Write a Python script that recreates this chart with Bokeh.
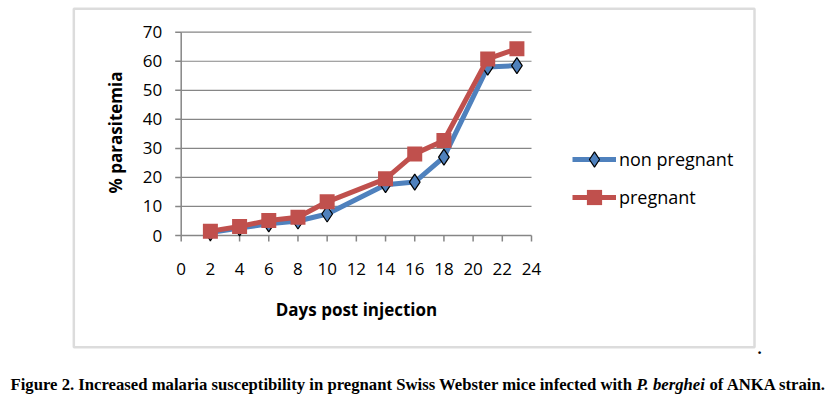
from bokeh.plotting import figure
from bokeh.models import Legend, LegendItem, BoxAnnotation, Label, Range1d
from bokeh.core.properties import value
from bokeh.embed import file_html
from bokeh.resources import INLINE
import numpy as np

# ---- data ----
days = [2, 4, 6, 8, 10, 14, 16, 18, 21, 23]
non_pregnant = [1.0, 2.6, 4.0, 5.0, 7.4, 17.5, 18.4, 27.0, 58.0, 58.5]
pregnant = [1.5, 3.1, 5.2, 6.3, 11.6, 19.5, 28.1, 32.7, 60.8, 64.3]
x_ticks = [0, 2, 4, 6, 8, 10, 12, 14, 16, 18, 20, 22, 24]
x_tick_labels = ["0", "2", "4", "6", "8", "10", "12", "14", "16", "18", "20", "22", "24"]
y_ticks = [0, 10, 20, 30, 40, 50, 60, 70]
y_tick_labels = ["0", "10", "20", "30", "40", "50", "60", "70"]
series_names = ["non pregnant", "pregnant"]
x_title = "Days post injection"
y_title = "% parasitemia"
caption_a = "Figure 2. Increased malaria susceptibility in pregnant Swiss Webster mice infected with"
caption_b = "P. berghei"
caption_c = "of ANKA strain."

BLUE = "#4F81BD"
RED = "#C0504D"
GRAY = "#868686"
FONT = "Open Sans"
CAP_FONT = "Liberation Serif"

# ---- layout (pixels from the canvas top-left) ----
W, H = 836, 396
X0, XS = 180.7, 14.596     # pixel of day 0, pixels per day
Y0, YS = 235.0, 2.904      # pixel of 0 %, pixels per %

p = figure(width=W, height=H, output_backend="svg", toolbar_location=None,
           x_axis_location=None, y_axis_location=None, min_border=0,
           x_range=Range1d(-X0 / XS, (W - X0) / XS),
           y_range=Range1d(-(H - Y0) / YS, Y0 / YS))
p.outline_line_color = None
p.background_fill_color = "white"
p.border_fill_color = "white"
p.xgrid.visible = False
p.ygrid.visible = False

# outer chart box
p.add_layout(BoxAnnotation(left=73.3, right=754, top=H - 8.3, bottom=H - 346.7,
                           left_units="screen", right_units="screen",
                           top_units="screen", bottom_units="screen",
                           fill_alpha=0, line_color="#8a8a8a", line_width=2.5,
                           level="underlay"))

# horizontal gridlines
gy = y_ticks[1:]
p.segment(x0=[x_ticks[0]] * len(gy), y0=gy, x1=[x_ticks[-1]] * len(gy), y1=gy,
          line_color=GRAY, line_width=1.2)
# axis lines
p.segment(x0=[x_ticks[0], x_ticks[0]], y0=[y_ticks[0], y_ticks[0]],
          x1=[x_ticks[-1], x_ticks[0]], y1=[y_ticks[0], y_ticks[-1]],
          line_color=GRAY, line_width=1.5)
# ticks
p.ray(x=[x_ticks[0]] * len(y_ticks), y=y_ticks, length=6, length_units="screen",
      angle=np.pi, line_color=GRAY, line_width=1.5)
p.ray(x=x_ticks, y=[y_ticks[0]] * len(x_ticks), length=6, length_units="screen",
      angle=-np.pi / 2, line_color=GRAY, line_width=1.5)
# tick labels
p.text(x=[x_ticks[0]] * len(y_ticks), y=y_ticks, text=y_tick_labels,
       x_offset=-19, text_align="right", text_baseline="middle",
       text_font=value(FONT), text_font_size="17px", text_color="black")
p.text(x=x_ticks, y=[y_ticks[0]] * len(x_ticks), text=x_tick_labels,
       y_offset=33, text_align="center", text_baseline="middle",
       text_font=value(FONT), text_font_size="17px", text_color="black")
# axis titles
p.add_layout(Label(x=356, y=H - 309, x_units="screen", y_units="screen", text=x_title,
                   text_font=FONT, text_font_size="17px", text_font_style="bold",
                   text_align="center", text_baseline="middle", text_color="black"))
p.add_layout(Label(x=115, y=H - 132, x_units="screen", y_units="screen", text=y_title,
                   angle=np.pi / 2,
                   text_font=FONT, text_font_size="17px", text_font_style="bold",
                   text_align="center", text_baseline="middle", text_color="black"))

# series
bl = p.line(days, non_pregnant, line_color=BLUE, line_width=5)
bm = p.scatter(days, non_pregnant, marker="diamond", size=16,
               fill_color=BLUE, line_color="black", line_width=1.2)
rl = p.line(days, pregnant, line_color=RED, line_width=5)
rm = p.scatter(days, pregnant, marker="square", size=15,
               fill_color=RED, line_color=RED, line_width=0)

legend = Legend(items=[LegendItem(label=series_names[0], renderers=[bl, bm]),
                       LegendItem(label=series_names[1], renderers=[rl, rm])],
                location=(572, H - 215.7), padding=0, margin=0, spacing=0,
                glyph_width=44, glyph_height=38, label_height=38, label_standoff=3,
                label_text_font=FONT, label_text_font_size="18px",
                label_text_color="black",
                border_line_color=None, background_fill_alpha=0)
p.add_layout(legend, "center")

# caption
CAP_SIZE = "16.7px"
CAP_BASE = 384
for x, txt, style in [(10, caption_a, "bold"), (636, caption_b, "bold italic"),
                      (709, caption_c, "bold")]:
    p.add_layout(Label(x=x, y=H - CAP_BASE, x_units="screen", y_units="screen", text=txt,
                       text_font=CAP_FONT, text_font_size=CAP_SIZE, text_font_style=style,
                       text_baseline="alphabetic", text_align="left", text_color="black"))
p.add_layout(Label(x=757, y=H - 348, x_units="screen", y_units="screen", text=".",
                   text_font=CAP_FONT, text_font_size=CAP_SIZE, text_font_style="bold",
                   text_baseline="alphabetic", text_align="left", text_color="black"))

open("out.html", "w").write(file_html(p, INLINE))
